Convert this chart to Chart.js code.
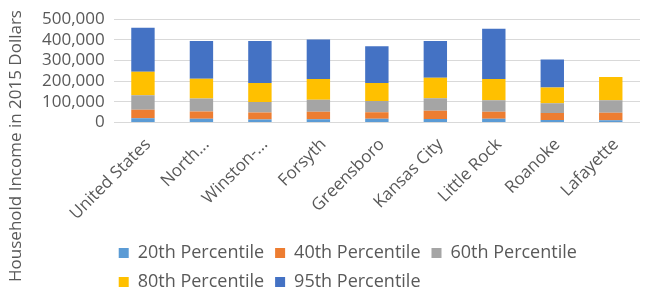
<!DOCTYPE html>
<html>
<head>
<meta charset="utf-8">
<script src="https://cdn.jsdelivr.net/npm/chart.js@4"></script>
<style>
  html, body { margin: 0; padding: 0; background: #fff; }
  #wrap { width: 645px; height: 292px; position: relative; }
</style>
</head>
<body>
<div id="wrap"><canvas id="graficoIngresos"></canvas></div>
<script>
// categorias y valores
const lugares = ['United States', 'North...', 'Winston-...', 'Forsyth', 'Greensboro', 'Kansas City', 'Little Rock', 'Roanoke', 'Lafayette'];
const p20 = [21000, 18000, 15000, 16000, 18000, 17000, 18000, 13000, 11000];
const p40 = [41000, 36000, 34000, 36000, 32000, 40000, 34000, 33000, 37000];
const p60 = [70000, 62000, 51000, 59000, 54000, 61000, 56000, 47000, 60000];
const p80 = [114000, 96000, 91000, 100000, 87000, 99000, 103000, 77000, 113000];
const p95 = [213000, 183000, 203000, 191000, 178000, 177000, 243000, 135000, null];
const tituloY = 'Household Income in 2015 Dollars';

const gris = '#595959';

// titulo del eje y centrado en toda la altura del lienzo
const tituloEjeY = {
    id: 'tituloEjeY',
    afterDraw(chart) {
        const ctx = chart.ctx;
        ctx.save();
        ctx.translate(16, chart.height / 2);
        ctx.rotate(-Math.PI / 2);
        ctx.font = '17px "Open Sans"';
        ctx.fillStyle = gris;
        ctx.textAlign = 'center';
        ctx.textBaseline = 'middle';
        ctx.fillText(tituloY, 0, 0);
        ctx.restore();
    }
};

// mover la leyenda un poco (alineada con el area del grafico)
const ajusteLeyenda = {
    id: 'ajusteLeyenda',
    afterLayout(chart) {
        chart.legend.left -= 6;
        chart.legend.top += 5;
    }
};

document.addEventListener('DOMContentLoaded', function() {
    const ctx = document.getElementById('graficoIngresos').getContext('2d');
    const serie = (label, data, color) => ({
        label: label,
        data: data,
        backgroundColor: color,
        borderWidth: 0,
        barPercentage: 0.4,
        categoryPercentage: 1
    });
    new Chart(ctx, {
        type: 'bar',
        data: {
            labels: lugares,
            datasets: [
                serie('20th Percentile', p20, '#5B9BD5'),
                serie('40th Percentile', p40, '#ED7D31'),
                serie('60th Percentile', p60, '#A5A5A5'),
                serie('80th Percentile', p80, '#FFC000'),
                serie('95th Percentile', p95, '#4472C4')
            ]
        },
        options: {
            responsive: true,
            maintainAspectRatio: false,
            animation: false,
            layout: { padding: { left: 33, top: 10, right: 5, bottom: -4 } },
            plugins: {
                tooltip: { enabled: false },
                legend: {
                    position: 'bottom',
                    align: 'start',
                    fullSize: false,
                    labels: {
                        boxWidth: 10,
                        boxHeight: 10,
                        padding: 11,
                        color: gris,
                        font: { family: '"Open Sans"', size: 18 }
                    }
                }
            },
            scales: {
                x: {
                    stacked: true,
                    grid: { display: false },
                    border: { display: false },
                    ticks: {
                        color: gris,
                        autoSkip: false,
                        minRotation: 45,
                        maxRotation: 45,
                        padding: 4,
                        labelOffset: 5,
                        font: { family: '"Open Sans"', size: 17 }
                    }
                },
                y: {
                    stacked: true,
                    min: 0,
                    max: 500000,
                    border: { display: false },
                    grid: { color: '#D9D9D9', lineWidth: 1, drawTicks: false },
                    ticks: {
                        stepSize: 100000,
                        autoSkip: false,
                        color: gris,
                        padding: 9,
                        font: { family: '"Open Sans"', size: 17 },
                        callback: v => v.toLocaleString('en-US')
                    }
                }
            }
        },
        plugins: [tituloEjeY, ajusteLeyenda]
    });
});
</script>
</body>
</html>
